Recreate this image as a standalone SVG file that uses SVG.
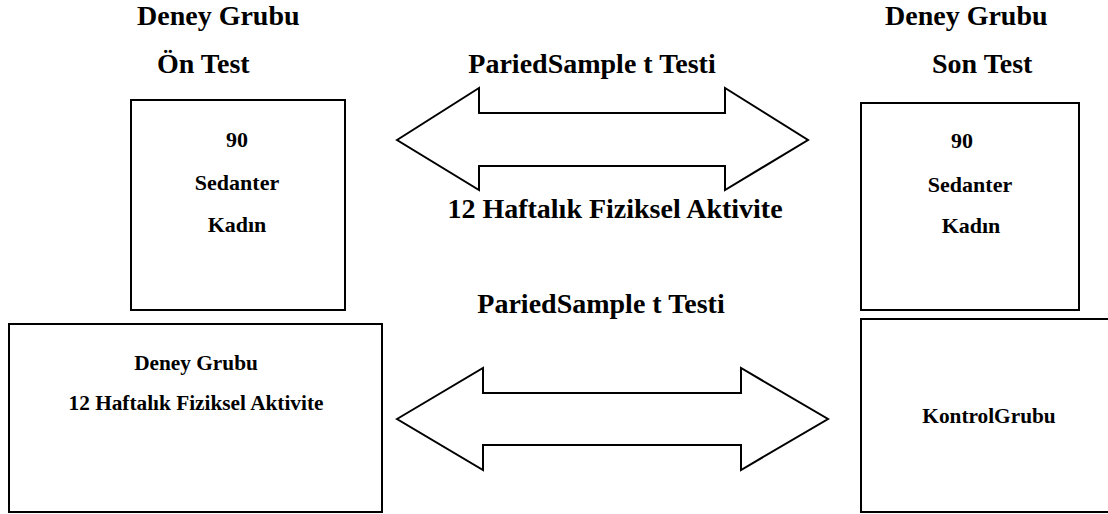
<svg xmlns="http://www.w3.org/2000/svg" width="1108" height="514" viewBox="0 0 1108 514">
<style>
.box{fill:#fff;stroke:#000;stroke-width:2}
.arr{fill:#fff;stroke:#000;stroke-width:2;stroke-linejoin:miter}
.t{font-family:"Liberation Serif","Times New Roman",serif;font-weight:bold;fill:#000}
.h{font-size:28px}
.b{font-size:22px}
.s{font-size:21.3px}
</style>
<rect width="1108" height="514" fill="#fff"/>
<g id="title-left">
<text class="t h" x="137" y="25">Deney Grubu</text>
<text class="t h" x="157" y="73">Ön Test</text>
</g>
<g id="title-right">
<text class="t h" x="885" y="25">Deney Grubu</text>
<text class="t h" x="932" y="73">Son Test</text>
</g>
<g id="label-top">
<text class="t h" x="592" y="73" text-anchor="middle">PariedSample t Testi</text>
</g>
<g id="label-mid">
<text class="t h" x="615" y="218" text-anchor="middle">12 Haftalık Fiziksel Aktivite</text>
</g>
<g id="label-bottom">
<text class="t h" x="601" y="313" text-anchor="middle">PariedSample t Testi</text>
</g>
<g id="connectors">
<polygon class="arr" points="397,140 479,88 479,113 725,113 725,88 808,140 725,190 725,166 479,166 479,190"/>
<polygon class="arr" points="397,419 483,368 483,393 741,393 741,368 828,419 741,470 741,445 483,445 483,470"/>
</g>
<g id="pretest">
<rect class="box" x="131" y="100" width="214" height="210"/>
<text class="t b" x="237" y="147" text-anchor="middle">90</text>
<text class="t b" x="237" y="190" text-anchor="middle">Sedanter</text>
<text class="t b" x="237" y="232" text-anchor="middle">Kadın</text>
</g>
<g id="posttest">
<rect class="box" x="861" y="103" width="218" height="207"/>
<text class="t b" x="962" y="148" text-anchor="middle">90</text>
<text class="t b" x="970" y="192" text-anchor="middle">Sedanter</text>
<text class="t b" x="971" y="233" text-anchor="middle">Kadın</text>
</g>
<g id="experiment">
<rect class="box" x="9" y="324" width="373" height="188"/>
<text class="t s" x="196" y="370" text-anchor="middle">Deney Grubu</text>
<text class="t s" x="196" y="410" text-anchor="middle">12 Haftalık Fiziksel Aktivite</text>
</g>
<g id="control">
<rect class="box" x="861" y="319" width="260" height="193"/>
<text class="t s" x="989" y="423" text-anchor="middle">KontrolGrubu</text>
</g>
</svg>
